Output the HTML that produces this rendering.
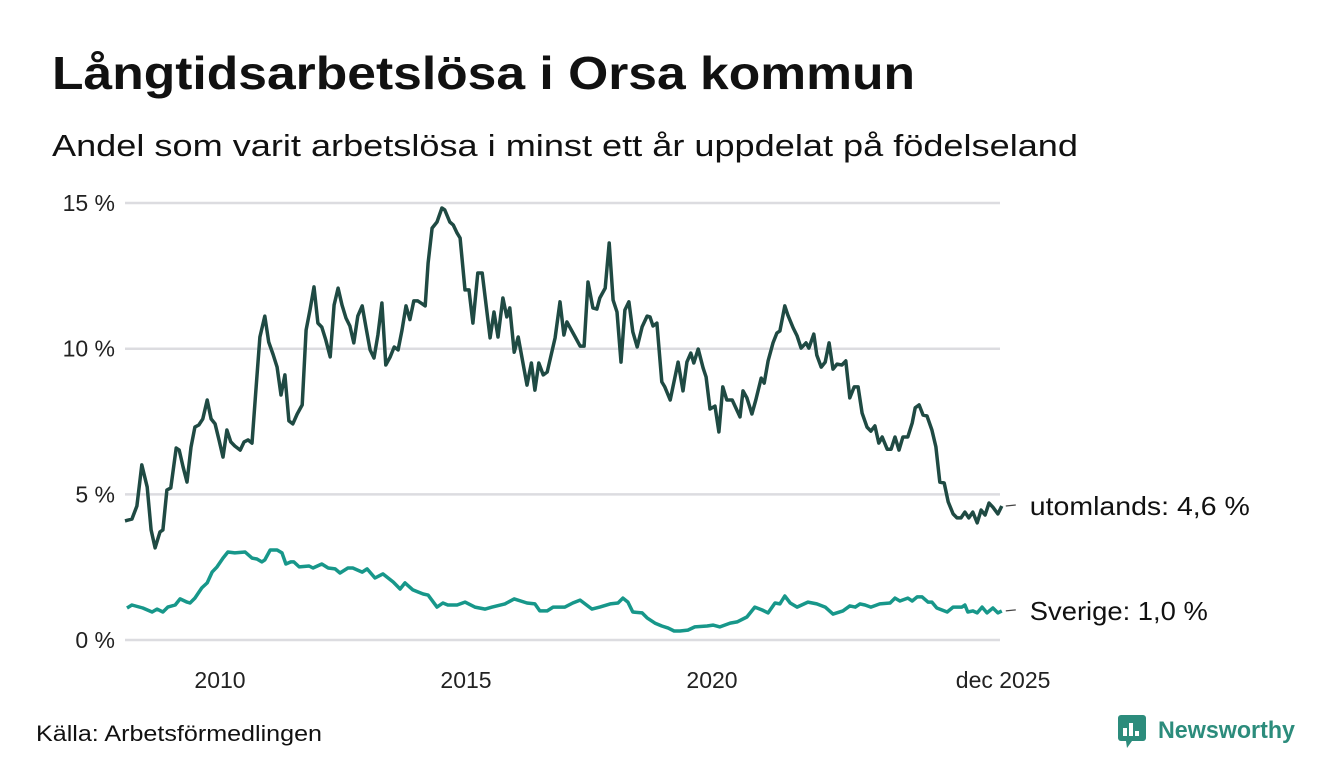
<!DOCTYPE html>
<html><head><meta charset="utf-8"><style>
body{margin:0;background:#fff;width:1340px;height:780px;overflow:hidden;font-family:"Liberation Sans",sans-serif}
svg{position:absolute;left:0;top:0}
</style></head><body>
<svg width="1340" height="780">
<text x="52" y="89" font-size="46" font-weight="bold" fill="#111" textLength="863" lengthAdjust="spacingAndGlyphs">Långtidsarbetslösa i Orsa kommun</text>
<text x="52" y="156" font-size="31" fill="#111" textLength="1026" lengthAdjust="spacingAndGlyphs">Andel som varit arbetslösa i minst ett år uppdelat på födelseland</text>
<g id="grid"></g><g id="yt"></g><g id="xt"></g><g id="lines"></g>
<text x="36" y="741" font-size="22" fill="#111" textLength="286" lengthAdjust="spacingAndGlyphs">Källa: Arbetsförmedlingen</text>
<g>
<rect x="1118" y="715" width="28" height="26" rx="3" fill="#2c8c7c"/>
<polygon points="1126,741 1132,741 1127,748" fill="#2c8c7c"/>
<rect x="1123" y="728" width="4" height="8" fill="#fff"/><rect x="1129" y="723" width="4" height="13" fill="#fff"/><rect x="1135" y="731" width="4" height="5" fill="#fff"/>
<text x="1158" y="738" font-size="24" font-weight="bold" fill="#2c8c7c" textLength="137" lengthAdjust="spacingAndGlyphs">Newsworthy</text>
</g>
</svg>
<script>
const yTicks=[0,5,10,15];
const yTickLabels=["0 %","5 %","10 %","15 %"];
const xTicks=[2010,2015,2020,2025.917];
const xTickLabels=["2010","2015","2020","dec 2025"];
const foreignDates=[2008.07,2008.21,2008.31,2008.41,2008.52,2008.60,2008.68,2008.78,2008.84,2008.92,2009.00,2009.11,2009.17,2009.25,2009.33,2009.41,2009.49,2009.57,2009.65,2009.74,2009.82,2009.90,2009.98,2010.06,2010.14,2010.22,2010.30,2010.41,2010.49,2010.57,2010.65,2010.73,2010.81,2010.91,2010.99,2011.08,2011.16,2011.24,2011.32,2011.40,2011.48,2011.57,2011.67,2011.75,2011.83,2011.91,2011.99,2012.07,2012.15,2012.24,2012.32,2012.40,2012.48,2012.56,2012.64,2012.72,2012.80,2012.89,2012.97,2013.05,2013.13,2013.21,2013.29,2013.37,2013.46,2013.54,2013.62,2013.70,2013.78,2013.86,2013.94,2014.02,2014.11,2014.17,2014.23,2014.31,2014.41,2014.51,2014.57,2014.67,2014.74,2014.82,2014.88,2014.98,2015.06,2015.14,2015.24,2015.33,2015.49,2015.57,2015.65,2015.75,2015.83,2015.89,2015.98,2016.06,2016.24,2016.33,2016.40,2016.48,2016.57,2016.65,2016.81,2016.91,2016.99,2017.05,2017.22,2017.32,2017.40,2017.48,2017.58,2017.66,2017.72,2017.83,2017.91,2017.99,2018.07,2018.15,2018.23,2018.31,2018.39,2018.48,2018.58,2018.68,2018.74,2018.80,2018.88,2018.98,2019.04,2019.15,2019.31,2019.41,2019.49,2019.57,2019.63,2019.72,2019.82,2019.88,2019.96,2020.06,2020.14,2020.22,2020.30,2020.41,2020.57,2020.63,2020.71,2020.81,2020.89,2021.00,2021.06,2021.14,2021.24,2021.32,2021.38,2021.48,2021.54,2021.65,2021.73,2021.81,2021.91,2021.97,2022.07,2022.13,2022.22,2022.30,2022.38,2022.46,2022.54,2022.64,2022.72,2022.80,2022.89,2022.97,2023.05,2023.15,2023.23,2023.31,2023.39,2023.46,2023.56,2023.64,2023.72,2023.80,2023.88,2023.98,2024.07,2024.13,2024.21,2024.29,2024.37,2024.47,2024.55,2024.63,2024.72,2024.80,2024.90,2024.98,2025.06,2025.14,2025.22,2025.30,2025.39,2025.47,2025.55,2025.63,2025.71,2025.81,2025.89];
const foreignValues=[4.09,4.15,4.60,6.01,5.25,3.78,3.16,3.71,3.78,5.15,5.22,6.59,6.52,5.94,5.42,6.62,7.31,7.38,7.59,8.24,7.59,7.42,6.87,6.28,7.21,6.80,6.66,6.52,6.80,6.87,6.76,8.58,10.40,11.12,10.23,9.80,9.37,8.41,9.10,7.52,7.42,7.76,8.07,10.64,11.33,12.12,10.88,10.74,10.30,9.72,11.50,12.08,11.50,11.05,10.78,10.20,11.12,11.47,10.71,9.96,9.68,10.47,11.57,9.44,9.72,10.06,9.96,10.64,11.47,11.0,11.64,11.64,11.54,11.47,12.94,14.14,14.35,14.83,14.76,14.35,14.25,13.97,13.80,12.02,12.02,10.88,12.60,12.60,10.37,11.26,10.40,11.74,11.09,11.40,9.88,10.40,8.75,9.51,8.58,9.51,9.10,9.20,10.37,11.61,10.47,10.92,10.40,10.09,10.09,12.29,11.40,11.36,11.74,12.08,13.63,11.67,11.26,9.54,11.33,11.61,10.58,10.06,10.75,11.12,11.09,10.78,10.88,8.86,8.69,8.24,9.54,8.55,9.54,9.85,9.51,9.99,9.34,9.03,7.93,8.03,7.14,8.69,8.24,8.24,7.66,8.55,8.31,7.76,8.24,8.99,8.82,9.58,10.20,10.54,10.61,11.47,11.16,10.71,10.44,10.02,10.20,10.02,10.50,9.78,9.37,9.54,10.20,9.30,9.47,9.44,9.58,8.31,8.69,8.69,7.79,7.31,7.17,7.35,6.76,6.97,6.55,6.55,6.97,6.52,6.97,6.97,7.45,7.97,8.07,7.72,7.69,7.21,6.63,5.42,5.39,4.74,4.33,4.19,4.19,4.39,4.19,4.39,4.02,4.46,4.29,4.70,4.56,4.33,4.60];
const swedenDates=[2008.11,2008.21,2008.43,2008.62,2008.72,2008.84,2008.94,2009.09,2009.19,2009.33,2009.39,2009.49,2009.63,2009.74,2009.84,2009.94,2010.06,2010.16,2010.30,2010.51,2010.65,2010.75,2010.85,2010.91,2011.02,2011.16,2011.26,2011.34,2011.44,2011.50,2011.61,2011.81,2011.89,2012.07,2012.20,2012.34,2012.44,2012.60,2012.70,2012.89,2012.99,2013.15,2013.31,2013.52,2013.66,2013.76,2013.92,2014.02,2014.13,2014.23,2014.41,2014.53,2014.63,2014.82,2014.98,2015.18,2015.39,2015.53,2015.79,2015.98,2016.24,2016.40,2016.50,2016.65,2016.77,2017.01,2017.17,2017.32,2017.56,2017.72,2017.93,2018.09,2018.19,2018.29,2018.39,2018.58,2018.68,2018.84,2018.98,2019.11,2019.23,2019.35,2019.51,2019.65,2019.90,2020.02,2020.16,2020.37,2020.51,2020.71,2020.87,2021.02,2021.14,2021.28,2021.38,2021.48,2021.59,2021.73,2021.95,2022.13,2022.30,2022.46,2022.66,2022.80,2022.91,2023.01,2023.11,2023.23,2023.41,2023.62,2023.72,2023.82,2023.98,2024.07,2024.17,2024.27,2024.39,2024.47,2024.57,2024.78,2024.90,2025.08,2025.14,2025.20,2025.30,2025.39,2025.49,2025.59,2025.71,2025.81,2025.89];
const swedenValues=[1.10,1.20,1.10,0.96,1.06,0.96,1.13,1.20,1.41,1.30,1.27,1.44,1.79,1.96,2.33,2.51,2.81,3.02,2.99,3.02,2.81,2.78,2.68,2.75,3.09,3.09,2.99,2.61,2.68,2.68,2.51,2.54,2.47,2.61,2.47,2.44,2.30,2.47,2.47,2.33,2.44,2.13,2.27,1.99,1.75,1.96,1.72,1.65,1.58,1.54,1.13,1.27,1.20,1.20,1.30,1.13,1.06,1.13,1.24,1.41,1.27,1.24,1.00,1.00,1.13,1.13,1.27,1.37,1.06,1.13,1.24,1.27,1.44,1.30,0.96,0.93,0.76,0.58,0.48,0.41,0.31,0.31,0.34,0.45,0.48,0.51,0.45,0.58,0.62,0.79,1.13,1.03,0.93,1.27,1.24,1.51,1.27,1.13,1.30,1.24,1.13,0.89,1.00,1.17,1.13,1.24,1.20,1.13,1.24,1.27,1.44,1.34,1.44,1.34,1.48,1.48,1.30,1.30,1.10,0.96,1.13,1.13,1.20,0.96,1.00,0.93,1.13,0.93,1.10,0.93,1.00];
const seriesNames=["utomlands","Sverige"];
const lastLabels=["utomlands: 4,6 %","Sverige: 1,0 %"];
const lastLabelWidths=[220,178];

const NS="http://www.w3.org/2000/svg";
const X=d=>220+(d-2010)*49.2;
const Y=v=>640-v*29.13;
function mk(p,t,a){const e=document.createElementNS(NS,t);for(const k in a)e.setAttribute(k,a[k]);p.appendChild(e);return e;}
const grid=document.getElementById('grid'),yt=document.getElementById('yt'),xt=document.getElementById('xt'),lines=document.getElementById('lines');
yTicks.forEach((v,i)=>{
 const l=mk(grid,'line',{x1:125,x2:1000,y1:Y(v),y2:Y(v),stroke:'#dcdce0','stroke-width':2.5});
 
 
 const t=mk(yt,'text',{x:115,y:Y(v)+8,'text-anchor':'end','font-size':23,fill:'#222'});
 t.textContent=yTickLabels[i];
 
 
});
xTicks.forEach((d,i)=>{
 const t=mk(xt,'text',{x:X(d),y:688,'text-anchor':'middle','font-size':23,fill:'#222'});
 t.textContent=xTickLabels[i];
 
 
});
[[foreignDates,foreignValues,'#1f4a43'],[swedenDates,swedenValues,'#17978a']].forEach((s,i)=>{
 const pts=s[0].map((d,j)=>X(d).toFixed(1)+','+Y(s[1][j]).toFixed(1)).join(' ');
 const p=mk(lines,'polyline',{points:pts,fill:'none',stroke:s[2],'stroke-width':3.5,'stroke-linejoin':'round'});
 
 
 const lv=s[1][s[1].length-1],ld=s[0][s[0].length-1];
 mk(lines,'line',{x1:X(ld)+4,x2:X(ld)+14,y1:Y(lv),y2:Y(lv)-1,stroke:'#444','stroke-width':1.2});
 const t=mk(lines,'text',{x:X(ld)+28,y:Y(lv)+9,'font-size':26,fill:'#111',textLength:lastLabelWidths[i],lengthAdjust:'spacingAndGlyphs'});
 t.textContent=lastLabels[i];
 
 
});
</script>
</body></html>
